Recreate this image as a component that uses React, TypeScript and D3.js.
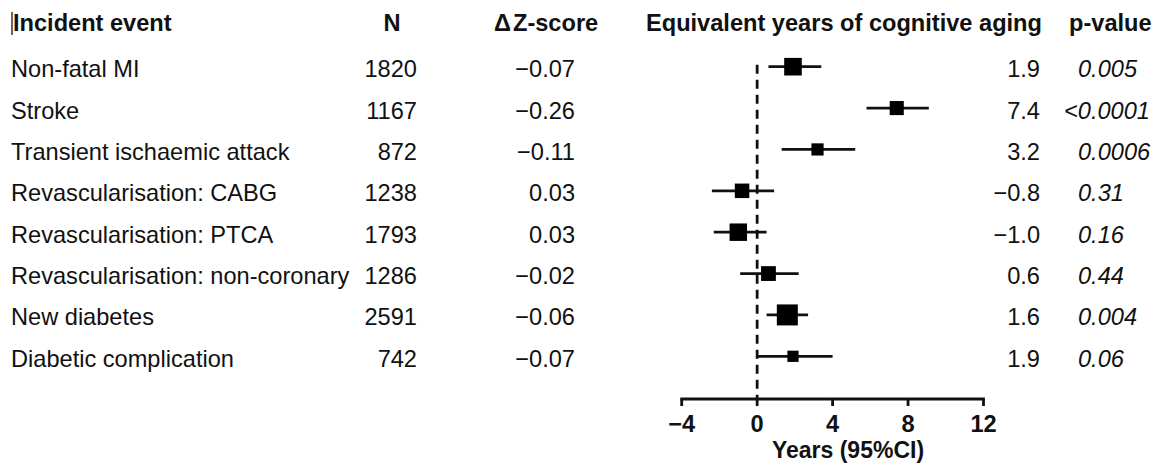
import React from 'react';
import * as d3 from 'd3';

const events = [
  'Non-fatal MI',
  'Stroke',
  'Transient ischaemic attack',
  'Revascularisation: CABG',
  'Revascularisation: PTCA',
  'Revascularisation: non-coronary',
  'New diabetes',
  'Diabetic complication',
];
const nCases = [1820, 1167, 872, 1238, 1793, 1286, 2591, 742];
const deltaZ = ['−0.07', '−0.26', '−0.11', '0.03', '0.03', '−0.02', '−0.06', '−0.07'];
const years = [1.9, 7.4, 3.2, -0.8, -1.0, 0.6, 1.6, 1.9];
const ciLow = [0.6, 5.8, 1.3, -2.4, -2.3, -0.9, 0.5, 0.0];
const ciHigh = [3.4, 9.1, 5.2, 0.9, 0.5, 2.2, 2.7, 4.0];
const pValues = ['0.005', '<0.0001', '0.0006', '0.31', '0.16', '0.44', '0.004', '0.06'];
const xTicks = [-4, 0, 4, 8, 12];

const W = 1157;
const H = 465;
const font = '"Liberation Sans", Arial, sans-serif';
const fs = 23.6;
const ink = '#111';

export default function App() {
  const x = d3.scaleLinear().domain([-4, 12]).range([681.7, 983.5]);
  const y = d3.scalePoint<string>().domain(events).range([66.7, 356.3]);
  const box = d3.scaleSqrt().domain([0, d3.max(nCases) as number]).range([0, 21]);
  const axisY = 399;
  const fmt = (v: number) => (v < 0 ? '−' : '') + Math.abs(v).toFixed(1);
  const tickFmt = (v: number) => (v < 0 ? '−' : '') + Math.abs(v);

  return (
    <svg width={W} height={H} style={{ position: 'absolute', left: 0, top: 0 }} fontFamily={font}>
      <rect width={W} height={H} fill="#fff" />
      {/* headers */}
      <line x1={12} x2={12} y1={12} y2={35} stroke="#333" strokeWidth={1.5} />
      <g fontWeight="bold" fontSize={fs} fill={ink}>
        <text x={13} y={31}>Incident event</text>
        <text x={392} y={31} textAnchor="middle">N</text>
        <text x={494} y={31}>Δ<tspan dx={2}>Z-score</tspan></text>
        <text x={646} y={31}>Equivalent years of cognitive aging</text>
        <text x={1069} y={31}>p-value</text>
      </g>

      {/* reference line */}
      <line
        x1={x(0)}
        x2={x(0)}
        y1={(y(events[0]) as number) - 2}
        y2={axisY}
        stroke={ink}
        strokeWidth={2.8}
        strokeDasharray="9,6"
      />

      {events.map((e, i) => {
        const cy = y(e) as number;
        const s = box(nCases[i]);
        const ty = cy + 10.5;
        return (
          <g key={e}>
            <text x={11} y={ty} fontSize={fs} fill={ink}>{e}</text>
            <text x={417} y={ty} fontSize={fs} fill={ink} textAnchor="end">{nCases[i]}</text>
            <text x={575} y={ty} fontSize={fs} fill={ink} textAnchor="end">{deltaZ[i]}</text>
            <line x1={x(ciLow[i])} x2={x(ciHigh[i])} y1={cy} y2={cy} stroke={ink} strokeWidth={2.8} />
            <rect x={x(years[i]) - s / 2} y={cy - s / 2} width={s} height={s} fill="#000" />
            <text x={1040} y={ty} fontSize={fs} fill={ink} textAnchor="end">{fmt(years[i])}</text>
            <text
              x={pValues[i].startsWith('<') ? 1064 : 1078}
              y={ty}
              fontSize={fs}
              fill={ink}
              fontStyle="italic"
            >
              {pValues[i]}
            </text>
          </g>
        );
      })}

      {/* x axis */}
      <g stroke={ink} strokeWidth={2.8} fill="none">
        <line x1={x(-4)} x2={x(12)} y1={axisY} y2={axisY} strokeLinecap="square" />
        {xTicks.map((t) => (
          <line key={t} x1={x(t)} x2={x(t)} y1={axisY} y2={axisY + 7} />
        ))}
      </g>
      <g fontWeight="bold" fontSize={fs} fill={ink} textAnchor="middle">
        {xTicks.map((t) => (
          <text key={t} x={x(t)} y={432}>{tickFmt(t)}</text>
        ))}
        <text x={848} y={458} fontSize={23}>Years (95%CI)</text>
      </g>
    </svg>
  );
}
